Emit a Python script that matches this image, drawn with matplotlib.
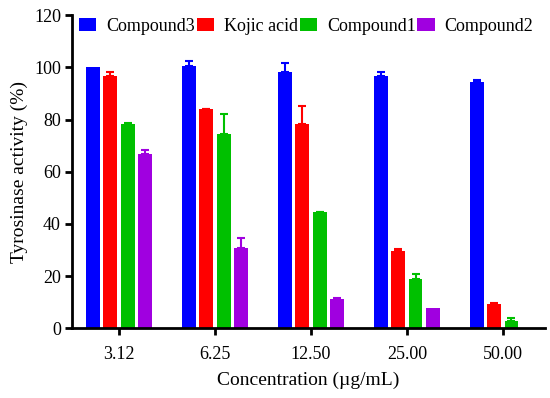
import numpy as np
import matplotlib
matplotlib.use('Agg')
import matplotlib.pyplot as plt

plt.rc('font', **{'size': 13, 'family': 'serif', 'serif': ['Liberation Serif', 'DejaVu Serif']})

# data
concentrations = ['3.12', '6.25', '12.50', '25.00', '50.00']
series_names = ['Compound3', 'Kojic acid', 'Compound1', 'Compound2']
compound3 = [100.0, 100.4, 98.3, 96.8, 94.4]
compound3_err = [0.0, 2.0, 3.5, 1.6, 0.8]
kojic = [96.7, 83.9, 78.1, 29.8, 9.3]
kojic_err = [1.6, 0.3, 7.2, 0.6, 0.4]
compound1 = [78.1, 74.6, 44.4, 18.8, 2.7]
compound1_err = [0.5, 7.6, 0.3, 2.1, 1.1]
compound2 = [66.8, 30.8, 11.2, 7.7, 0.0]
compound2_err = [1.5, 3.8, 0.4, 0.0, 0.0]
colors = ['#0000ff', '#ff0000', '#00c000', '#a000e0']

fig = plt.figure(figsize=(5.5, 3.98), dpi=100)
ax = fig.add_axes([0.131, 0.175, 0.860, 0.787])

x = np.arange(len(concentrations))
offsets = [-0.27, -0.09, 0.09, 0.27]
width = 0.145
values = [compound3, kojic, compound1, compound2]
errors = [compound3_err, kojic_err, compound1_err, compound2_err]
for vals, errs, off, c, name in zip(values, errors, offsets, colors, series_names):
    vals = np.array(vals)
    errs = np.array(errs)
    ax.bar(x + off, vals, width=width, color=c, label=name, zorder=2)
    show = errs > 0
    ax.errorbar((x + off)[show], vals[show], yerr=[np.zeros(show.sum()), errs[show]],
                fmt='none', ecolor=c, elinewidth=1.5, capsize=3, capthick=1.5, zorder=1)

ax.set_xlim(-0.49, 4.44)
ax.set_ylim(0, 120)
ax.set_xticks(x)
ax.set_xticklabels(concentrations)
ax.set_yticks(np.arange(0, 121, 20))
ax.spines['top'].set_visible(False)
ax.spines['right'].set_visible(False)
for s in ['left', 'bottom']:
    ax.spines[s].set_linewidth(2)
ax.tick_params(width=2, length=5, pad=3)
ax.tick_params(axis='x', pad=8)
ax.set_xlabel('Concentration (\u00b5g/mL)', fontsize=14, labelpad=6)
ax.set_ylabel('Tyrosinase activity (%)', fontsize=14, labelpad=4)

ax.legend(loc='center left', bbox_to_anchor=(0.015, 0.9636), ncol=4, frameon=False,
          handlelength=0.95, handleheight=0.72, handletextpad=0.55, columnspacing=0.1,
          fontsize=13, borderaxespad=0, borderpad=0)

fig.savefig('out.png', dpi=100)
